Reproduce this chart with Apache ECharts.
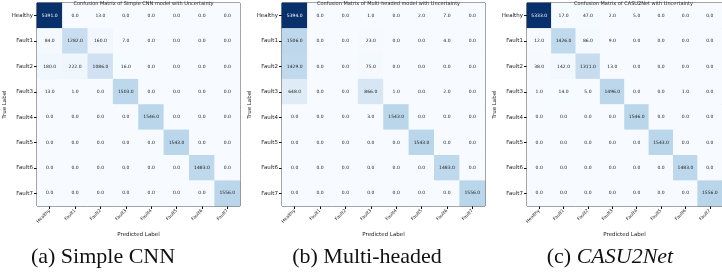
<!doctype html>
<html>
<head>
<meta charset="utf-8"/>
<title>Confusion matrices</title>
<script src="https://cdn.jsdelivr.net/npm/echarts@6/dist/echarts.min.js"></script>
<style>
  body { margin: 0; background: #fff; }
  #chart { width: 722px; height: 277px; }
</style>
</head>
<body>
<div id="chart"></div>
<script>
// class names (rows = true, columns = predicted)
const classes = ['Healthy', 'Fault1', 'Fault2', 'Fault3', 'Fault4', 'Fault5', 'Fault6', 'Fault7'];

const cmSimple = [
  [5391, 0, 13, 0, 0, 0, 0, 0],
  [84, 1282, 160, 7, 0, 0, 0, 0],
  [180, 222, 1086, 16, 0, 0, 0, 0],
  [13, 1, 0, 1503, 0, 0, 0, 0],
  [0, 0, 0, 0, 1546, 0, 0, 0],
  [0, 0, 0, 0, 0, 1543, 0, 0],
  [0, 0, 0, 0, 0, 0, 1483, 0],
  [0, 0, 0, 0, 0, 0, 0, 1556]
];
const cmMulti = [
  [5394, 0, 0, 1, 0, 2, 7, 0],
  [1506, 0, 0, 23, 0, 0, 4, 0],
  [1429, 0, 0, 75, 0, 0, 0, 0],
  [648, 0, 0, 866, 1, 0, 2, 0],
  [0, 0, 0, 3, 1543, 0, 0, 0],
  [0, 0, 0, 0, 0, 1543, 0, 0],
  [0, 0, 0, 0, 0, 0, 1483, 0],
  [0, 0, 0, 0, 0, 0, 0, 1556]
];
const cmCasu = [
  [5333, 17, 47, 2, 5, 0, 0, 0],
  [12, 1426, 86, 9, 0, 0, 0, 0],
  [38, 142, 1311, 13, 0, 0, 0, 0],
  [1, 14, 5, 1496, 0, 0, 1, 0],
  [0, 0, 0, 0, 1546, 0, 0, 0],
  [0, 0, 0, 0, 0, 1543, 0, 0],
  [0, 0, 0, 0, 0, 0, 1483, 0],
  [0, 0, 0, 0, 0, 0, 0, 1556]
];

const titles = [
  'Confusion Matrix of Simple CNN model with Uncertainty',
  'Confusion Matrix of Multi-headed model with Uncertainty',
  'Confusion Matrix of CASU2Net with Uncertainty'
];
const captions = ['(a) Simple CNN', '(b) Multi-headed', '(c) '];
const captionItalic = ['', '', 'CASU2Net'];

// matplotlib "Blues"
const blues = ['#f7fbff', '#deebf7', '#c6dbef', '#9ecae1', '#6baed6', '#4292c6', '#2171b5', '#08519c', '#08306b'];

const matrices = [cmSimple, cmMulti, cmCasu];
const gridLefts = [37, 282, 527];
const captionX = [103, 367, 610];
const SIZE = 203;

const chart = echarts.init(document.getElementById('chart'));

const grid = [], xAxis = [], yAxis = [], series = [], visualMap = [], title = [], graphic = [];

matrices.forEach((cm, i) => {
  let mx = 0;
  cm.forEach(r => r.forEach(v => { if (v > mx) mx = v; }));
  const data = [];
  cm.forEach((row, yi) => row.forEach((v, xi) => {
    data.push({
      value: [xi, yi, v],
      label: { color: v > mx / 2 ? '#fff' : '#222' }
    });
  }));

  grid.push({
    left: gridLefts[i], top: 3, width: SIZE, height: SIZE,
    show: true, borderColor: '#111', borderWidth: 1, backgroundColor: 'transparent'
  });
  xAxis.push({
    type: 'category', gridIndex: i, data: classes,
    name: 'Predicted Label', nameLocation: 'middle', nameGap: 19,
    nameTextStyle: { fontFamily: 'DejaVu Sans', fontSize: 5.5, color: '#222' },
    axisLine: { show: false },
    axisTick: { show: true, alignWithLabel: true, length: 3, lineStyle: { color: '#111' } },
    axisLabel: { rotate: 45, fontSize: 4.5, fontFamily: 'DejaVu Sans', color: '#222', margin: 4 },
    splitLine: { show: false }
  });
  yAxis.push({
    type: 'category', gridIndex: i, data: classes, inverse: true,
    name: 'True Label', nameLocation: 'middle', nameGap: 27, nameRotate: 90,
    nameTextStyle: { fontFamily: 'DejaVu Sans', fontSize: 5.5, color: '#222' },
    axisLine: { show: false },
    axisTick: { show: true, alignWithLabel: true, length: 3, lineStyle: { color: '#111' } },
    axisLabel: { fontSize: 5.5, fontFamily: 'DejaVu Sans', color: '#222', margin: 4 },
    splitLine: { show: false }
  });
  series.push({
    type: 'heatmap', xAxisIndex: i, yAxisIndex: i, data: data,
    itemStyle: { borderWidth: 0 },
    label: {
      show: true, fontSize: 4.5, fontFamily: 'DejaVu Sans',
      formatter: p => p.value[2].toFixed(1)
    },
    emphasis: { disabled: true }
  });
  visualMap.push({
    type: 'continuous', show: false, seriesIndex: i, dimension: 2,
    min: 0, max: mx, inRange: { color: blues }
  });
  title.push({
    text: titles[i], left: gridLefts[i] + SIZE / 2, top: -4, textAlign: 'center',
    textStyle: { fontSize: 5, fontWeight: 'normal', fontFamily: 'DejaVu Sans', color: '#222' }
  });
  graphic.push({
    type: 'text',
    position: [captionX[i], 257],
    style: {
      text: captionItalic[i] ? '{n|' + captions[i] + '}{i|' + captionItalic[i] + '}' : '{n|' + captions[i] + '}',
      rich: {
        n: { fontFamily: 'Liberation Serif', fontSize: 22, fill: '#111' },
        i: { fontFamily: 'Liberation Serif', fontSize: 22, fontStyle: 'italic', fill: '#111' }
      },
      textAlign: 'center', textVerticalAlign: 'middle'
    }
  });
});

chart.setOption({
  animation: false,
  title: title,
  grid: grid,
  xAxis: xAxis,
  yAxis: yAxis,
  visualMap: visualMap,
  series: series,
  graphic: graphic
});
</script>
</body>
</html>
